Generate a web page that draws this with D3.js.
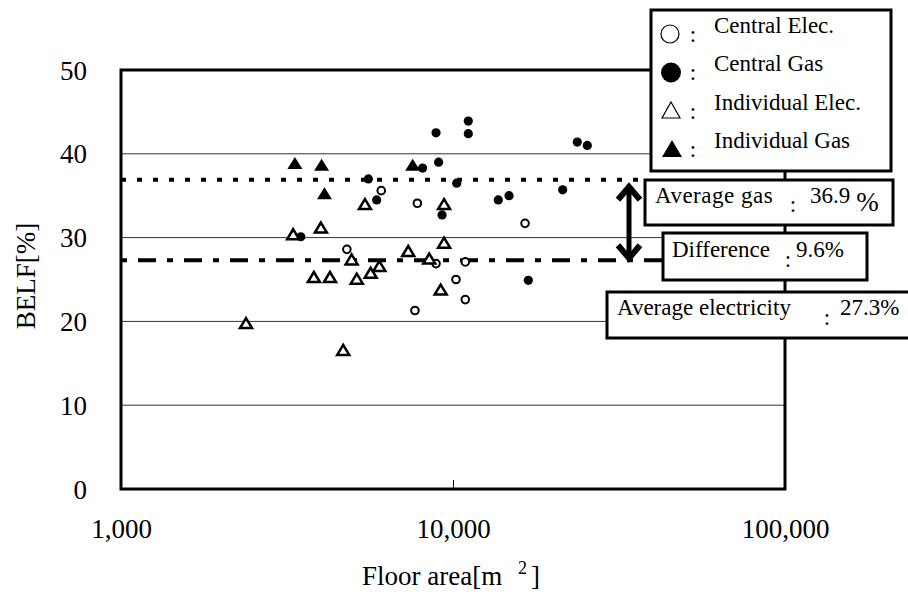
<!DOCTYPE html>
<html>
<head>
<meta charset="utf-8">
<script src="https://cdn.jsdelivr.net/npm/d3@7/dist/d3.min.js"></script>
<style>
  html, body { margin: 0; padding: 0; background: #fff; }
  svg { display: block; font-family: "Liberation Serif", "Times New Roman", serif; }
</style>
</head>
<body>
<svg id="chart" width="908" height="606"></svg>
<script>
// Floor area [m2] vs BELF [%] for four system types
const centralElec = [
  [4790, 28.6], [6080, 35.6], [7810, 34.1], [8890, 26.9], [10890, 27.1],
  [10210, 25.0], [10890, 22.6], [7680, 21.3], [16480, 31.7]
];
const centralGas = [
  [3480, 30.1], [5560, 37.0], [5890, 34.5], [8100, 38.3], [8890, 42.5],
  [9050, 39.0], [11120, 43.9], [11120, 42.4], [10260, 36.5], [9270, 32.7],
  [13690, 34.5], [14750, 35.0], [21400, 35.7], [23680, 41.4], [25380, 41.0],
  [16860, 24.9]
];
const individualElec = [
  [2380, 19.8], [3300, 30.4], [4000, 31.2], [3810, 25.3], [4260, 25.3],
  [4670, 16.6], [4950, 27.4], [5130, 25.1], [5650, 25.8], [6000, 26.6],
  [5430, 34.0], [7330, 28.4], [8480, 27.5], [9400, 34.0], [9400, 29.4],
  [9180, 23.8]
];
const individualGas = [
  [3340, 38.9], [4020, 38.7], [4100, 35.3], [7560, 38.7]
];

const averageGas = 36.9;
const averageElec = 27.3;
const difference = 9.6;

const xTicks = [1000, 10000, 100000];
const yTicks = [0, 10, 20, 30, 40, 50];
const legendLabels = ["Central Elec.", "Central Gas", "Individual Elec.", "Individual Gas"];

const svg = d3.select("#chart");
const plotLeft = 121, plotRight = 785, plotTop = 70, plotBottom = 489;

const x = d3.scaleLog().domain([1000, 100000]).range([plotLeft, plotRight]);
const y = d3.scaleLinear().domain([0, 50]).range([plotBottom, plotTop]);

// horizontal grid
svg.append("g").selectAll("line")
  .data(yTicks.filter(v => v > 0 && v < 50))
  .join("line")
  .attr("x1", plotLeft).attr("x2", plotRight)
  .attr("y1", d => y(d)).attr("y2", d => y(d))
  .attr("stroke", "#333").attr("stroke-width", 1);

// x axis with inner tick at 10,000
const xAxis = svg.append("g")
  .attr("transform", `translate(0,${plotBottom})`)
  .call(d3.axisBottom(x).tickValues(xTicks).tickFormat(d3.format(",")).tickSizeInner(-9).tickSizeOuter(0));
xAxis.select(".domain").remove();
xAxis.selectAll("line").attr("stroke", "#000").attr("stroke-width", 1);
xAxis.selectAll("text")
  .attr("y", 49).attr("dy", 0)
  .attr("font-size", 27).attr("font-family", "Liberation Serif").attr("fill", "#000");

// y axis
const yAxis = svg.append("g")
  .attr("transform", `translate(${plotLeft},0)`)
  .call(d3.axisLeft(y).tickValues(yTicks).tickSize(0).tickPadding(34));
yAxis.select(".domain").remove();
yAxis.selectAll("text")
  .attr("font-size", 27).attr("font-family", "Liberation Serif").attr("fill", "#000")
  .attr("dy", "0.34em");

// plot frame
svg.append("rect")
  .attr("x", plotLeft).attr("y", plotTop)
  .attr("width", plotRight - plotLeft).attr("height", plotBottom - plotTop)
  .attr("fill", "none").attr("stroke", "#000").attr("stroke-width", 3);

// axis titles
svg.append("text")
  .attr("transform", `translate(35,276) rotate(-90)`)
  .attr("text-anchor", "middle")
  .attr("font-size", 27)
  .text("BELF[%]");

const xt = svg.append("text")
  .attr("x", 362).attr("y", 585)
  .attr("font-size", 27);
xt.append("tspan").text("Floor area[m ");
xt.append("tspan").attr("font-size", 18).attr("dy", -11).attr("dx", 9).text("2");
xt.append("tspan").attr("dy", 11).attr("dx", 4).text("]");

// average lines
svg.append("line")
  .attr("x1", plotLeft).attr("x2", 645)
  .attr("y1", y(averageGas)).attr("y2", y(averageGas))
  .attr("stroke", "#000").attr("stroke-width", 4)
  .attr("stroke-dasharray", "5,11");
svg.append("line")
  .attr("x1", plotLeft).attr("x2", 663)
  .attr("y1", y(averageElec)).attr("y2", y(averageElec))
  .attr("stroke", "#000").attr("stroke-width", 4)
  .attr("stroke-dasharray", "6,11,18,11");

// markers
const tri = (cx, cy, w, h) => `M${cx},${cy - h / 2}L${cx + w / 2},${cy + h / 2}L${cx - w / 2},${cy + h / 2}Z`;

svg.append("g").selectAll("circle")
  .data(centralElec).join("circle")
  .attr("cx", d => x(d[0])).attr("cy", d => y(d[1])).attr("r", 3.8)
  .attr("fill", "#fff").attr("stroke", "#000").attr("stroke-width", 2);

svg.append("g").selectAll("circle")
  .data(centralGas).join("circle")
  .attr("cx", d => x(d[0])).attr("cy", d => y(d[1])).attr("r", 4.6)
  .attr("fill", "#000");

svg.append("g").selectAll("path")
  .data(individualElec).join("path")
  .attr("d", d => tri(x(d[0]), y(d[1]), 12, 10))
  .attr("fill", "#fff").attr("stroke", "#000").attr("stroke-width", 2.5)
  .attr("stroke-linejoin", "miter");

svg.append("g").selectAll("path")
  .data(individualGas).join("path")
  .attr("d", d => tri(x(d[0]), y(d[1]), 15, 12))
  .attr("fill", "#000");

// double arrow for difference
const ax = 629, ay1 = y(averageGas) + 6, ay2 = y(averageElec) - 1;
const arrow = svg.append("g").attr("stroke", "#000").attr("fill", "none")
  .attr("stroke-width", 6).attr("stroke-linejoin", "miter");
arrow.append("line").attr("x1", ax).attr("x2", ax).attr("y1", ay1 + 2).attr("y2", ay2 - 2)
  .attr("stroke-width", 5);
arrow.append("path").attr("d", `M${ax - 11},${ay1 + 14}L${ax},${ay1 + 1}L${ax + 11},${ay1 + 14}`);
arrow.append("path").attr("d", `M${ax - 11},${ay2 - 14}L${ax},${ay2 - 1}L${ax + 11},${ay2 - 14}`);

// legend
const legend = svg.append("g");
legend.append("rect")
  .attr("x", 651).attr("y", 10).attr("width", 240).attr("height", 161)
  .attr("fill", "#fff").attr("stroke", "#000").attr("stroke-width", 3);
const rowBase = [33, 71, 110, 148];
legend.append("circle").attr("cx", 670).attr("cy", 34).attr("r", 9)
  .attr("fill", "#fff").attr("stroke", "#000").attr("stroke-width", 1.2);
legend.append("circle").attr("cx", 671).attr("cy", 72.5).attr("r", 10).attr("fill", "#000");
legend.append("path").attr("d", tri(671, 110, 18, 16))
  .attr("fill", "#fff").attr("stroke", "#000").attr("stroke-width", 1.2);
legend.append("path").attr("d", tri(672, 148.5, 20, 17)).attr("fill", "#000");
legend.selectAll("text.lab")
  .data(legendLabels).join("text").attr("class", "lab")
  .attr("x", 714).attr("y", (d, i) => rowBase[i])
  .attr("font-size", 23).text(d => d);
legend.selectAll("text.col")
  .data(legendLabels).join("text").attr("class", "col")
  .attr("x", 693).attr("y", (d, i) => rowBase[i] + 9)
  .attr("text-anchor", "middle").attr("font-size", 23).text(":");

// annotation boxes
function box(bx, by, bw, bh) {
  svg.append("rect").attr("x", bx).attr("y", by).attr("width", bw).attr("height", bh)
    .attr("fill", "#fff").attr("stroke", "#000").attr("stroke-width", 3);
}
box(645, 180, 248, 45);
box(663, 233, 204, 47);
box(607, 292, 305, 46);

svg.append("text").attr("x", 655).attr("y", 203).attr("font-size", 23)
  .attr("letter-spacing", 0.5).text("Average gas");
svg.append("text").attr("x", 793).attr("y", 212).attr("text-anchor", "middle").attr("font-size", 23).text(":");
const gasVal = svg.append("text").attr("x", 810).attr("y", 203).attr("font-size", 23);
gasVal.append("tspan").text(averageGas.toFixed(1));
gasVal.append("tspan").attr("dx", 6).attr("dy", 8).attr("font-size", 27).text("%");

svg.append("text").attr("x", 672).attr("y", 257).attr("font-size", 23).text("Difference");
svg.append("text").attr("x", 788).attr("y", 267).attr("text-anchor", "middle").attr("font-size", 23).text(":");
svg.append("text").attr("x", 796).attr("y", 257).attr("font-size", 23).text(difference.toFixed(1) + "%");

svg.append("text").attr("x", 617).attr("y", 315).attr("font-size", 23).text("Average electricity");
svg.append("text").attr("x", 827).attr("y", 325).attr("text-anchor", "middle").attr("font-size", 23).text(":");
svg.append("text").attr("x", 840).attr("y", 315).attr("font-size", 23).text(averageElec.toFixed(1) + "%");
</script>
</body>
</html>
